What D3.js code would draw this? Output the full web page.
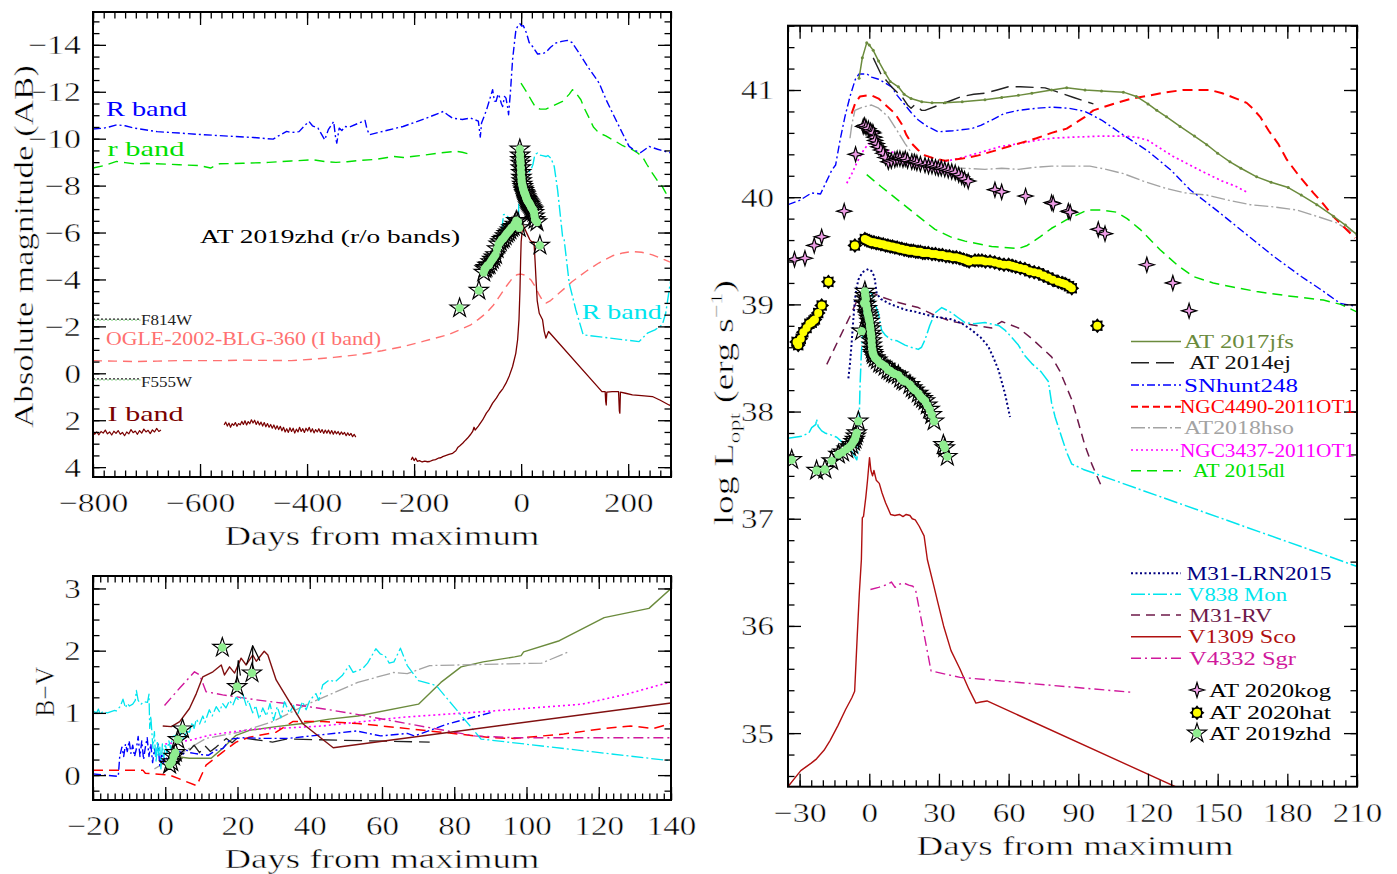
<!DOCTYPE html>
<html><head><meta charset="utf-8"><title>LRN comparison</title>
<script src="https://cdn.jsdelivr.net/npm/d3@7/dist/d3.min.js"></script>
<style>
html,body{margin:0;padding:0;background:#fff;}
svg{display:block;}
text{font-family:"Liberation Serif","DejaVu Serif",serif;font-weight:normal;}
text.big{stroke:#fff;stroke-width:0.45px;}
</style></head><body>
<svg id="chart" width="1397" height="874"></svg>
<script>
// ================= DATA =================
// ---- Top-left panel: absolute magnitude vs days ----
const rBandBlue = [[-800,-10.41],[-780,-10.45],[-770,-10.5],[-756,-10.59],[-740,-10.55],[-722.6,-10.45],[-700,-10.37],[-680,-10.3],[-638.9,-10.24],[-600,-10.18],[-555.3,-10.12],[-500,-10.05],[-463.3,-9.98],[-455,-10.1],[-438.1,-10.31],[-430,-10.26],[-415,-10.3],[-405,-10.55],[-396.3,-10.73],[-390,-10.55],[-379.6,-10.45],[-367,-9.95],[-360,-10.4],[-350.3,-10.73],[-347,-10.1],[-344.5,-9.81],[-340,-10.45],[-335,-10.35],[-329.4,-10.52],[-320,-10.5],[-305,-10.65],[-291.7,-10.78],[-288,-10.4],[-283.3,-10.17],[-250,-10.36],[-220.6,-10.52],[-180,-10.85],[-145.5,-11.16],[-135,-10.98],[-128.7,-10.88],[-110,-10.82],[-95.1,-10.88],[-80,-10.75],[-76.3,-10.07],[-74,-10.67],[-65,-11.2],[-53.3,-12.09],[-50,-11.6],[-46.9,-11.59],[-43,-11.9],[-40.8,-11.8],[-37,-11.5],[-34.6,-11.37],[-31,-11.8],[-28.3,-11.73],[-25,-11.3],[-23.5,-11.02],[-20,-12.0],[-16,-13.37],[-12,-14.2],[-9.7,-14.65],[-5,-14.85],[-2.2,-14.9],[1,-14.8],[4,-14.82],[10,-14.5],[15,-14.1],[21.3,-13.93],[30.7,-13.61],[40,-13.63],[46.3,-13.68],[55,-13.9],[65,-14.08],[76,-14.15],[86.6,-14.19],[95,-14.1],[108.4,-13.65],[125,-13.05],[145.7,-12.37],[160,-11.6],[176.9,-10.81],[190,-10.2],[201.7,-9.67],[212,-9.5],[223.5,-9.41],[232,-9.55],[239,-9.67],[255,-9.55],[276.3,-9.41],[282,-9.4]];
const rBandGreenPre = [[-800,-8.75],[-780,-8.85],[-756,-9.03],[-740,-8.98],[-722.6,-8.93],[-700,-8.95],[-638.9,-8.89],[-600,-8.85],[-580.3,-8.75],[-563.6,-8.93],[-520,-8.95],[-471.7,-8.99],[-430,-9.05],[-387.9,-9.1],[-365,-9.02],[-346.2,-8.99],[-325,-9.02],[-304.4,-9.07],[-270,-9.12],[-250,-9.2],[-237.4,-9.24],[-220,-9.2],[-200,-9.25],[-178.8,-9.31],[-150,-9.4],[-120.3,-9.46],[-110,-9.42],[-99.4,-9.36]];
const rBandGreenPost = [[-0.3,-12.37],[10,-12.0],[20,-11.6],[27.7,-11.31],[36,-11.26],[46.3,-11.26],[60,-11.4],[77.3,-11.59],[90,-11.9],[96,-12.09],[104,-11.9],[111.6,-11.66],[118,-11.3],[127.1,-10.88],[135,-10.5],[142.6,-10.31],[150,-10.2],[158.2,-10.12],[167,-10.0],[176.9,-9.88],[190,-9.7],[207.8,-9.53],[217,-9.4],[226.5,-9.24],[235,-8.9],[245.1,-8.53],[255,-8.2],[263.8,-7.96],[270,-7.7],[282,-7.3]];
const rBandCyan = [[-36,-6.1],[-33,-6.76],[-30,-6.78],[-26,-6.7],[-20,-6.55],[-14,-6.45],[-8,-6.4],[-5,-6.6],[-4,-7.8],[-3,-9.5],[-1.5,-9.45],[0,-8.9],[2,-8.6],[5.8,-8.53],[10,-8.6],[14,-8.55],[18.3,-8.67],[22,-8.9],[25,-9.25],[28,-9.35],[30.7,-9.39],[35,-9.3],[40,-9.28],[46.3,-9.24],[50,-9.28],[55.6,-9.17],[61.8,-8.82],[68.1,-7.82],[77.4,-5.83],[80.4,-5.69],[89.8,-3.84],[102.2,-2.71],[115.9,-1.64],[220.3,-1.35],[235.9,-1.71],[250,-1.85],[263.8,-2.07],[270.1,-2.56],[277.6,-3.7],[282,-4.3]];
const ogleIBand = [[-800,-0.54],[-760,-0.52],[-722.6,-0.5],[-680,-0.52],[-640,-0.54],[-597,-0.54],[-560,-0.54],[-520,-0.56],[-480,-0.55],[-429.7,-0.54],[-390,-0.6],[-350,-0.68],[-304.4,-0.79],[-260,-0.96],[-220.6,-1.14],[-180,-1.38],[-137,-1.64],[-115.4,-1.85],[-95.1,-2.05],[-80,-2.3],[-65.6,-2.56],[-52,-2.9],[-40.8,-3.27],[-28,-3.7],[-16,-4.06],[-8,-4.2],[-0.3,-4.23],[8,-4.18],[18.3,-3.98],[26,-3.7],[33.8,-3.34],[40,-3.1],[46.3,-2.99],[55,-3.1],[71.1,-3.42],[95,-3.9],[120.9,-4.34],[145,-4.7],[170.6,-5.01],[190,-5.13],[207.9,-5.19],[225,-5.16],[245.2,-5.05],[262,-4.9],[276.3,-4.76],[282,-4.72]];
const iBandSeg1 = [[-800,2.45],[-797,2.6],[-793,2.5],[-789,2.62],[-785,2.48],[-781,2.55],[-777,2.42],[-773,2.58],[-769,2.5],[-765,2.63],[-761,2.47],[-757,2.56],[-753,2.44],[-749,2.6],[-745,2.52],[-741,2.66],[-737,2.5],[-733,2.58],[-729,2.4],[-725,2.53],[-721,2.46],[-717,2.6],[-713,2.44],[-709,2.55],[-705,2.38],[-701,2.5],[-697,2.43],[-693,2.57],[-689,2.41],[-685,2.5],[-681,2.35],[-677,2.48],[-673,2.42]];
const iBandSeg2 = [[-555,2.2],[-552,2.08],[-549,2.25],[-546,2.12],[-543,2.3],[-540,2.15],[-537,2.22],[-534,2.1],[-531,2.26],[-528,2.14],[-525,2.2],[-522,2.05],[-519,2.18],[-516,2.02],[-513,2.2],[-510,2.06],[-507,2.15],[-504,1.98],[-501,2.12],[-498,2.0],[-495,2.18],[-492,2.04],[-489,2.2],[-486,2.08],[-483,2.25],[-480,2.1],[-477,2.28],[-474,2.14],[-471,2.3],[-468,2.18],[-465,2.34],[-462,2.2],[-459,2.38],[-456,2.24],[-453,2.4],[-450,2.26],[-447,2.45],[-444,2.3],[-441,2.5],[-438,2.36],[-435,2.52],[-432,2.32],[-429,2.48],[-426,2.34],[-423,2.55],[-420,2.38],[-417,2.5],[-414,2.3],[-411,2.48],[-408,2.36],[-405,2.52],[-402,2.34],[-399,2.46],[-396,2.3],[-393,2.5],[-390,2.36],[-387,2.54],[-384,2.4],[-381,2.5],[-378,2.36],[-375,2.52],[-372,2.4],[-369,2.56],[-366,2.42],[-363,2.55],[-360,2.42],[-357,2.58],[-354,2.44],[-351,2.6],[-348,2.46],[-345,2.58],[-342,2.48],[-339,2.62],[-336,2.5],[-333,2.6],[-330,2.52],[-327,2.66],[-324,2.54],[-321,2.65],[-318,2.56],[-315,2.7],[-312,2.6],[-309,2.72]];
const iBandSeg3 = [[-205.5,3.69],[-203,3.58],[-200,3.72],[-197,3.62],[-194,3.75],[-190,3.72],[-185,3.78],[-180,3.74],[-175,3.77],[-171,3.76],[-165,3.7],[-160,3.68],[-155,3.62],[-150,3.6],[-146.6,3.55],[-140,3.5],[-135,3.46],[-128,3.41],[-122,3.3],[-118,3.15],[-115,3.1],[-109.3,2.98],[-104,2.85],[-100,2.76],[-95,2.62],[-90.6,2.48],[-88,2.3],[-86,2.42],[-80,2.25],[-72,1.99],[-65,1.7],[-60,1.55],[-53.3,1.27],[-46,1.05],[-40.8,0.85],[-34,0.65],[-28.3,0.42],[-22,0.1],[-16,-0.29],[-10,-0.85],[-6.6,-1.43],[-4,-2.3],[-2.2,-3.56],[-1,-4.8],[0,-5.6],[2,-6.1],[4,-6.3],[8,-6.1],[12,-5.9],[16,-5.7],[20,-5.6],[24,-5.6],[26,-4.8],[28,-3.9],[30,-3.1],[33.8,-2.56],[40,-2.28],[43,-1.8],[46.3,-1.5],[48,-1.6],[51.2,-1.78],[151,0.78],[157,0.78],[158,1.2],[159,1.35],[160,0.8],[170,0.78],[182,0.78],[183.5,1.6],[184.4,1.7],[185.5,0.8],[195,0.85],[207.9,0.92],[225,0.95],[245.2,0.99],[260,1.15],[276.3,1.35],[282,1.4]];
const f814wLevel = [[-800,-2.31],[-711,-2.31]];
const f555wLevel = [[-800,0.24],[-711,0.24]];
const zhdMag = [[-115,-2.78],[-79,-3.53],[-70,-4.3],[-68,-4.45],[-66,-4.5],[-63,-4.6],[-60,-4.62],[-57,-4.75],[-54,-4.85],[-51,-4.95],[-48,-5.05],[-45,-5.3],[-42,-5.5],[-39,-5.6],[-36,-5.7],[-33,-5.75],[-30,-5.85],[-27,-5.95],[-24,-6.02],[-21,-6.1],[-18,-6.2],[-15,-6.25],[-12,-6.35],[-9,-6.5],[-6,-6.45],[-3.5,-6.2],[-2.5,-9.55],[-2,-9.3],[-1.5,-9.1],[-1,-8.95],[-0.5,-8.75],[0,-8.55],[0.5,-8.35],[1,-8.2],[2,-8.05],[3,-7.95],[4,-7.85],[5,-7.78],[6,-7.7],[7,-7.65],[8,-7.6],[9,-7.52],[10,-7.45],[11,-7.4],[12,-7.35],[13.5,-7.3],[15,-7.25],[16.5,-7.2],[18,-7.12],[19.5,-7.05],[21,-7.0],[22.5,-6.95],[24,-6.85],[25,-6.7],[26,-6.55],[29.6,-6.45],[35,-5.45]];

// ---- Bottom-left panel: B-V colour ----
const bvSNhunt248 = [[-20,0.02],[-17,0.0],[-13,-0.02],[-12.6,0.3],[-12,0.45],[-11.5,0.3],[-11,0.5],[-10.5,0.38],[-10,0.55],[-9.5,0.35],[-9,0.48],[-8.5,0.3],[-8,0.42],[-7.5,0.62],[-7,0.3],[-6.5,0.55],[-6,0.25],[-5.5,0.45],[-5,0.6],[-4.5,0.3],[-4,0.5],[-3.5,0.2],[-3,0.42],[-2.5,0.28],[-2,0.5],[-1.5,0.15],[-1,0.35],[-0.5,0.2],[0,0.3],[1,0.22],[2,0.32],[3,0.28],[4,0.38],[5,0.34],[6,0.4],[7,0.36],[8,0.35],[10,0.33],[12,0.32],[14,0.4],[16,0.43],[18,0.58],[21.5,0.6],[27,0.59],[34,0.59],[43.6,0.65],[53,0.71],[59.6,0.63],[67,0.67],[69,0.63],[78,0.82],[90.5,1.01]];
const bvV838Mon = [[-20,1.03],[-19,1.0],[-18.5,1.06],[-18,0.98],[-17.3,1.02],[-16,1.0],[-14,1.04],[-13.6,1.03],[-12.5,1.1],[-11.7,1.22],[-11,1.08],[-10.5,1.15],[-9.9,1.11],[-9,1.14],[-8.3,1.2],[-8,1.36],[-7.5,1.2],[-6.7,1.14],[-6,1.18],[-4.9,1.17],[-4.5,1.3],[-4.3,0.75],[-4,0.95],[-3.6,0.6],[-3.4,0.43],[-3,0.7],[-2.7,0.3],[-2.5,0.21],[-2.2,0.55],[-1.8,0.3],[-1.5,0.45],[-1.2,0.1],[-0.8,0.5],[-0.4,0.28],[0,0.5],[0.5,0.35],[1,0.55],[1.5,0.42],[2,0.62],[3,0.64],[3.5,0.5],[4.5,0.72],[5,0.58],[6,0.7],[6.7,0.69],[7.5,0.85],[8,0.75],[8.6,0.9],[9.5,0.82],[10.4,0.95],[11,0.85],[12.2,1.05],[13,0.95],[14.1,1.1],[15,1.02],[15.9,1.15],[16.8,1.08],[17.8,1.2],[18.7,1.12],[19.6,1.25],[20.5,1.2],[21.5,1.3],[22.4,1.12],[23,1.2],[24.2,1.0],[25,1.12],[26,0.9],[27,1.08],[28,0.95],[29,1.15],[30,0.88],[31,1.1],[32,0.92],[33,1.18],[34.4,1.0],[35.5,1.12],[36.5,0.95],[38,1.18],[39,1.05],[40,1.2],[41.7,1.31],[42.5,1.2],[43.6,1.45],[45.4,1.53],[47,1.5],[49,1.6],[50.9,1.76],[52,1.65],[54.6,1.71],[56,1.8],[58.3,2.03],[59.5,1.95],[60.8,1.92],[62,1.8],[63.3,1.82],[65.1,2.04],[67,1.76],[70.1,1.52],[75,1.44],[87.4,0.58],[140,0.23]];
const bvV1309Sco = [[-0.7,0.79],[1.7,0.78],[4,0.86],[6.7,1.07],[8.6,1.31],[10.4,1.58],[13.2,1.66],[15.5,1.77],[16.4,1.61],[17.8,1.74],[19.2,1.64],[21,1.88],[22.4,1.77],[24.2,1.93],[25.2,1.83],[27.4,1.99],[28.4,1.93],[30.7,1.53],[38,0.83],[46.5,0.44],[140,1.16]];
const bvV4332Sgr = [[-0.2,1.12],[4,1.4],[8.1,1.66],[9.5,1.61],[11.3,1.34],[15.9,1.29],[25.2,1.21],[36.2,1.13],[45.4,1.05],[52.7,0.98],[85.6,0.63],[96.7,0.6],[140,0.6]];
const bvNGC4490 = [[-20,0.08],[-6.2,0.08],[-5.5,0.03],[1.2,0.0],[8.7,-0.17],[11.3,0.16],[15.9,0.37],[19.6,0.53],[23.3,0.61],[30.7,0.69],[35.3,0.86],[43.6,0.86],[53.3,0.83],[78.1,0.68],[90.5,0.6],[96.7,0.59],[110.3,0.66],[121.5,0.75],[128.9,0.79],[135.1,0.75],[140,0.83]];
const bvAT2017jfs = [[1.2,0.32],[4,0.29],[6.7,0.27],[12.7,0.27],[15.9,0.43],[19.6,0.64],[23.3,0.72],[30.7,0.78],[38,0.83],[45.4,0.9],[53.3,0.95],[70.1,1.14],[76.3,1.49],[81.9,1.74],[88,1.82],[96.7,1.9],[98.5,1.92],[99.2,1.98],[109.1,2.16],[121.5,2.53],[133.9,2.68],[140,3.0]];
const bvAT2018hso = [[-3,0.1],[4.9,0.37],[11.3,0.59],[20.5,0.69],[29.7,0.86],[39,1.13],[45.4,1.29],[53.3,1.49],[63.3,1.65],[67,1.63],[73.2,1.76],[104.2,1.8],[111.6,1.98]];
const bvAT2014ej = [[6.7,0.4],[8,0.48],[9.5,0.36],[11,0.47],[12.5,0.38],[14.1,0.45],[16.9,0.59],[18.5,0.52],[20,0.6],[22.4,0.59],[29.7,0.53],[33.5,0.58],[73.2,0.53]];
const bvNGC3437 = [[0,0.5],[6.7,0.56],[12.2,0.64],[17.8,0.69],[25.2,0.74],[34.4,0.76],[43.6,0.79],[65.7,0.93],[90.5,1.03],[115.3,1.14],[127.7,1.3],[140,1.5]];
const bvZhdLineA = [[19.7,1.45],[20.2,1.84],[20.8,1.6]];
const bvZhdLineB = [[22.5,1.78],[24.2,2.08],[26.2,1.84]];
const bvZhdLineC = [[24.2,2.08],[24.2,1.66]];
const bvAT2019zhd = [[1.2,0.17],[1.8,0.21],[2.3,0.3],[2.8,0.36],[3.5,0.57],[4.8,0.74],[15.8,2.05],[19.9,1.42],[24,1.64]];

// ---- Right panel: log optical luminosity ----
const lumAT2017jfs = [[-4.4,41.11],[-3,41.3],[-1.1,41.44],[0,41.42],[1.7,41.37],[4,41.27],[6.8,41.16],[9,41.08],[12.5,41.03],[15,40.96],[18,40.92],[22.6,40.89],[27,40.88],[32.6,40.88],[40,40.89],[49.8,40.91],[57,40.93],[64.2,40.95],[70,40.97],[78.5,41.0],[85,41.02],[92.9,41.0],[100,40.99],[109.4,40.98],[115,40.94],[120,40.87],[123.8,40.81],[128,40.75],[133.8,40.66],[140,40.57],[145.3,40.49],[150,40.41],[155.3,40.33],[160,40.27],[166.8,40.19],[173,40.14],[180.4,40.09],[186,40.02],[192.7,39.93],[200,39.82],[205,39.74],[210,39.65]];
const lumAT2014ej = [[1.7,41.3],[5,41.15],[10,41.02],[14,40.94],[16.5,40.86],[18,40.83],[19.5,40.86],[21,40.84],[22.5,40.81],[24,40.81],[30,40.86],[35,40.9],[39.8,40.94],[45,40.96],[49.8,40.97],[55,41.0],[59.9,41.03],[65,41.03],[75.7,41.02],[80,40.99],[88,40.93],[96.5,40.87]];
const lumSNhunt248 = [[-35,39.93],[-30,39.97],[-24.8,40.04],[-21,40.03],[-16.2,40.25],[-14.5,40.3],[-12.6,40.53],[-10.5,40.75],[-8.3,40.94],[-6,41.1],[-4.4,41.15],[-1,41.15],[1,41.12],[4,41.1],[6.5,41.07],[9.6,41.03],[12,40.95],[15.4,40.86],[18,40.79],[21.1,40.72],[25,40.66],[29.7,40.61],[36,40.62],[44.1,40.64],[48,40.67],[52.7,40.72],[58,40.78],[64.2,40.81],[72,40.83],[78.5,40.84],[86,40.83],[92.9,40.8],[100,40.72],[109.4,40.58],[120,40.43],[130,40.25],[138.1,40.07],[150,39.87],[162,39.66],[174,39.45],[186,39.26],[195,39.13],[202.7,39.01],[210,38.98]];
const lumNGC4490 = [[-7.6,40.78],[-6,40.88],[-4,40.94],[-1,40.95],[1,40.95],[4,40.92],[7,40.86],[11.1,40.78],[14,40.68],[16,40.58],[18.3,40.5],[21,40.44],[24,40.39],[28,40.36],[32.6,40.34],[40,40.36],[47,40.39],[55,40.44],[64.2,40.5],[72,40.55],[78.5,40.6],[85,40.64],[92.9,40.75],[96.5,40.81],[105,40.87],[113,40.92],[120.9,40.95],[128,40.98],[135.2,41.0],[146.7,41.0],[152,40.97],[158,40.92],[162.5,40.88],[165,40.83],[168.3,40.75],[172,40.62],[176,40.5],[179.8,40.35],[185,40.2],[191.2,40.04],[195,39.95],[199.8,39.82],[204,39.73],[209.2,39.62]];
const lumAT2018hso = [[-8.3,40.55],[-7.5,40.68],[-6.2,40.81],[-3,40.84],[1,40.86],[4,40.83],[8.2,40.75],[12,40.62],[15.4,40.5],[18,40.42],[21.1,40.35],[26,40.3],[32.6,40.27],[40,40.27],[49.8,40.26],[57,40.27],[64.2,40.26],[72,40.28],[78.5,40.29],[95,40.29],[102,40.26],[109.4,40.22],[118,40.15],[128.1,40.08],[136,40.04],[145.3,40.02],[155,39.97],[164,39.93],[174,39.91],[184.1,39.88],[193,39.82],[201.3,39.76],[205,39.71],[209.9,39.66]];
const lumNGC3437 = [[-9.7,40.13],[-7.5,40.22],[-5.4,40.32],[-3,40.42],[-0.4,40.5],[5,40.46],[10,40.42],[16,40.37],[22,40.34],[28,40.33],[32,40.33],[40,40.37],[49.8,40.43],[56,40.47],[64.2,40.5],[72,40.53],[78.5,40.55],[87.9,40.56],[100,40.57],[109.4,40.57],[115.2,40.56],[120,40.53],[125,40.46],[130.9,40.38],[138,40.3],[145.3,40.22],[152,40.15],[158,40.1],[163.2,40.04]];
const lumAT2015dl = [[-1.1,40.21],[5,40.1],[12.5,39.97],[20,39.84],[28.3,39.7],[35,39.63],[41.2,39.59],[52.7,39.54],[64.2,39.52],[68,39.55],[73.5,39.63],[78.5,39.71],[85,39.79],[92.9,39.87],[95,39.88],[100,39.88],[106.5,39.86],[111,39.8],[116.6,39.7],[125.2,39.51],[133,39.36],[139.5,39.26],[148.1,39.2],[157,39.16],[166.8,39.12],[180,39.08],[195.5,39.04],[203,39.0],[209.9,38.93]];
const lumM31LRN2015 = [[-9,38.31],[-8.3,38.45],[-7.6,38.64],[-6.9,38.85],[-6.2,39.04],[-5.5,39.15],[-4.7,39.23],[-3,39.3],[-0.4,39.33],[1,39.31],[2.2,39.26],[3.2,39.1],[5,39.05],[8.2,39.01],[15.4,38.95],[20,38.93],[26.9,38.89],[35.5,38.86],[40,38.82],[44.1,38.76],[48,38.69],[51.2,38.61],[53.5,38.5],[55.6,38.39],[58.4,38.17],[60.6,37.95]];
const lumV838Mon = [[-35,37.75],[-29.1,37.77],[-26,37.8],[-24.8,37.85],[-23,37.88],[-22.7,37.93],[-22,37.86],[-20.5,37.82],[-19.1,37.8],[-16.2,37.78],[-14,37.76],[-11.9,37.72],[-9.5,37.66],[-7.6,37.63],[-5.4,37.55],[-4.9,37.62],[-4.7,37.68],[-4.3,37.95],[-4,38.23],[-3.5,38.5],[-3,38.7],[-2.5,38.9],[-1.9,39.1],[-0.5,39.13],[1,39.1],[2.5,39.0],[3.9,38.92],[5.3,38.76],[7,38.71],[9.6,38.67],[12,38.66],[15.4,38.62],[18,38.6],[21.1,38.58],[22.5,38.6],[24,38.67],[26,38.8],[28.3,38.92],[30,38.95],[31.2,38.97],[33,38.95],[35.5,38.92],[38,38.88],[41.2,38.83],[45,38.82],[49.8,38.83],[52,38.82],[54.1,38.81],[56,38.8],[58.4,38.76],[61,38.7],[64.2,38.62],[67,38.52],[69.9,38.45],[74,38.37],[77.1,38.28],[78.5,38.08],[80,37.95],[82.7,37.77],[85,37.62],[87.2,37.51],[88.3,37.5],[92.2,37.46],[212,36.54]];
const lumM31RV = [[-18.3,38.44],[-13,38.68],[-7.6,38.92],[-5,39.05],[-2.6,39.14],[0,39.12],[5.3,39.07],[12,39.02],[21.1,38.97],[28,38.9],[35.5,38.84],[44,38.81],[52.7,38.78],[57,38.84],[64.2,38.78],[70,38.68],[78.5,38.51],[82,38.38],[87.2,38.11],[90,37.9],[92.9,37.68],[96,37.5],[100,37.3]];
const lumV1309Sco = [[-35,34.5],[-29.5,34.65],[-25,34.72],[-22.7,34.76],[-19.5,34.84],[-16.9,34.93],[-13.5,35.07],[-10.2,35.22],[-7.5,35.33],[-6.3,35.39],[-5.2,35.9],[-4.3,36.3],[-3.4,36.62],[-3,37.01],[-2.5,37.02],[-1.5,37.2],[-0.8,37.35],[0.1,37.57],[0.7,37.45],[1.4,37.4],[2,37.45],[3,37.36],[4.3,37.33],[5.5,37.24],[7,37.15],[9.2,37.04],[11,37.03],[13,37.04],[14.5,37.02],[15.9,37.04],[17.5,37.03],[18.5,37.0],[19.8,36.99],[21.5,36.93],[23.6,36.84],[25,36.62],[27.5,36.4],[29.5,36.22],[32,36.0],[35.2,35.77],[39,35.6],[42.9,35.41],[45.9,35.28],[48,35.29],[50.7,35.3],[131.8,34.5]];
const lumV4332Sgr = [[0.5,36.34],[4,36.36],[8.2,36.39],[9.5,36.41],[11.1,36.36],[13,36.39],[14.9,36.4],[17,36.38],[18.8,36.37],[20,36.33],[26.6,35.58],[39.1,35.52],[113.4,35.38]];
const lumAT2020kog = [[-32.2,39.42],[-27.7,39.43],[-23.7,39.55],[-20.5,39.63],[-10.8,39.87],[-5.9,40.40],[-2.6,40.66],[-2,40.67],[-1.4,40.65],[-0.4,40.64],[0.5,40.62],[1.2,40.61],[1.7,40.6],[2.2,40.56],[2.5,40.53],[3.2,40.5],[3.9,40.47],[5,40.44],[6,40.41],[7,40.37],[8.2,40.33],[9.5,40.34],[11,40.35],[12,40.36],[13.2,40.36],[14.5,40.35],[15.5,40.36],[16.5,40.34],[18.3,40.33],[19.5,40.33],[20.5,40.32],[22,40.31],[24,40.3],[25.5,40.29],[27,40.29],[28.5,40.28],[29.7,40.27],[31,40.27],[32.5,40.26],[34,40.25],[35.5,40.24],[37,40.23],[38.5,40.21],[39.8,40.19],[41,40.17],[42.6,40.15],[54.1,40.07],[57,40.05],[67.3,40.01],[78.5,39.95],[79.2,39.94],[85.7,39.87],[86.5,39.86],[98.6,39.70],[101.5,39.66],[119.5,39.37],[130.7,39.2],[137.7,38.94]];
const lumAT2020hat = [[-31.3,38.65],[-30.6,38.62],[-29.5,38.68],[-28.4,38.74],[-27,38.78],[-25.8,38.82],[-24.8,38.83],[-24,38.85],[-23.4,38.86],[-22,38.92],[-20.5,38.99],[-17.6,39.21],[-6.2,39.55],[-1.9,39.61],[-1,39.6],[0,39.59],[1,39.58],[2,39.58],[3,39.57],[4,39.57],[5,39.56],[6,39.56],[7,39.55],[8,39.55],[9,39.54],[10,39.54],[11,39.53],[12,39.53],[13,39.52],[14,39.52],[15,39.51],[16,39.51],[17,39.5],[18,39.5],[19,39.5],[20,39.49],[21,39.49],[22,39.49],[23,39.48],[24,39.48],[25.4,39.48],[27,39.47],[28.5,39.47],[30,39.46],[31.5,39.46],[33,39.45],[34.5,39.45],[36,39.44],[37.5,39.44],[39,39.43],[40.5,39.42],[42,39.41],[43,39.4],[45.5,39.41],[47,39.41],[48.5,39.41],[50,39.4],[52,39.4],[54,39.39],[56,39.38],[58,39.37],[60,39.37],[61.5,39.36],[63,39.35],[65,39.34],[67,39.33],[69,39.31],[71,39.3],[73,39.29],[75,39.27],[77,39.25],[79,39.23],[81.4,39.21],[83,39.2],[84.3,39.19],[86,39.17],[87.2,39.15],[98.2,38.8]];
const lumAT2019zhd = [[-33.4,37.55],[-22.7,37.45],[-19.1,37.46],[-16.2,37.54],[-13.3,37.6],[-11.5,37.62],[-9.7,37.65],[-8.5,37.67],[-7.6,37.69],[-6.8,37.72],[-6.2,37.74],[-5.8,37.77],[-5.4,37.8],[-4.7,37.91],[-3.3,38.75],[-2.2,39.01],[-1.9,39.12],[-1.7,39.08],[-1.5,39.05],[-1.3,39.0],[-1.0,38.96],[-0.8,38.92],[-0.5,38.9],[-0.2,38.87],[0.1,38.84],[0.3,38.8],[0.5,38.77],[0.7,38.73],[0.9,38.7],[1.0,38.66],[1.1,38.62],[1.3,38.58],[1.5,38.55],[1.8,38.53],[2.5,38.5],[3.5,38.48],[4.5,38.45],[5.5,38.44],[6.8,38.42],[8,38.39],[9,38.38],[10,38.36],[11,38.35],[12.5,38.34],[13.5,38.31],[14.5,38.29],[15.5,38.28],[17.5,38.25],[18.5,38.22],[19.5,38.2],[21.1,38.17],[22,38.14],[23,38.12],[24,38.1],[25,38.06],[26,38.02],[26.9,37.97],[27.9,37.91],[31.9,37.69],[32.5,37.66],[33.6,37.58]];

// ---- tick values ----
const tlXMajor = [-800,-600,-400,-200,0,200];
const tlYMajor = [-14,-12,-10,-8,-6,-4,-2,0,2,4];
const blXMajor = [-20,0,20,40,60,80,100,120,140];
const blYMajor = [0,1,2,3];
const rXMajor = [-30,0,30,60,90,120,150,180,210];
const rYMajor = [35,36,37,38,39,40,41];
// legend names
const legendLineNames = ["AT 2017jfs","AT 2014ej","SNhunt248","NGC4490-2011OT1","AT2018hso","NGC3437-2011OT1","AT 2015dl","M31-LRN2015","V838 Mon","M31-RV","V1309 Sco","V4332 Sgr"];
const legendMarkerNames = ["AT 2020kog","AT 2020hat","AT 2019zhd"];

// ================= DRAWING =================
const svg = d3.select("#chart");
const defs = svg.append("defs");
const fmt = d => { const v = +(+d).toFixed(2); return v < 0 ? "\u2212" + Math.abs(v) : String(v); };
const numW = s => Array.from(s).reduce((a, c) => a + (c === "\u2212" ? 20 : 16.5), 0);
const stepRange = (a, b, s) => { const out = []; for (let i = 0; a + i * s <= b + 1e-9; i++) out.push(+(a + i * s).toFixed(4)); return out; };

function makePanel(id, o) {
  const x = d3.scaleLinear().domain(o.xd).range([o.x0, o.x1]);
  const y = d3.scaleLinear().domain(o.yd).range([o.y1, o.y0]);
  defs.append("clipPath").attr("id", id).append("rect")
    .attr("x", o.x0).attr("y", o.y0).attr("width", o.x1 - o.x0).attr("height", o.y1 - o.y0);
  const plot = svg.append("g").attr("clip-path", `url(#${id})`);
  return { x, y, o, plot };
}
function drawAxes(p, xMaj, xMin, yMaj, yMin, leftPad) {
  const { x, y, o } = p;
  const ax = svg.append("g");
  const mk = (gen, tr, vals, size, lab) => {
    const a = ax.append("g").attr("transform", tr)
      .call(gen.tickValues(vals).tickSize(size).tickSizeOuter(0).tickPadding(0).tickFormat(lab ? fmt : () => ""));
    a.select(".domain").remove();
    a.selectAll(".tick line").attr("stroke", "#000").attr("stroke-width", 1.3);
    if (!lab) a.selectAll("text").remove();
    return a;
  };
  mk(d3.axisBottom(x), `translate(0,${o.y1})`, xMin, -6.5, false);
  const bx = mk(d3.axisBottom(x), `translate(0,${o.y1})`, xMaj, -13, true);
  mk(d3.axisTop(x), `translate(0,${o.y0})`, xMin, -6.5, false);
  mk(d3.axisTop(x), `translate(0,${o.y0})`, xMaj, -13, false);
  mk(d3.axisLeft(y), `translate(${o.x0},0)`, yMin, -6.5, false);
  const ly = mk(d3.axisLeft(y), `translate(${o.x0},0)`, yMaj, -13, true);
  mk(d3.axisRight(y), `translate(${o.x1},0)`, yMin, -6.5, false);
  mk(d3.axisRight(y), `translate(${o.x1},0)`, yMaj, -13, false);
  bx.selectAll("text").attr("class", "big").attr("y", 35).attr("dy", null).attr("font-size", 27)
    .attr("font-family", "Liberation Serif").attr("fill", "#000")
    .attr("textLength", d => numW(fmt(d))).attr("lengthAdjust", "spacingAndGlyphs");
  ly.selectAll("text").attr("class", "big").attr("x", -leftPad).attr("dy", "0.33em").attr("font-size", 27)
    .attr("font-family", "Liberation Serif").attr("fill", "#000")
    .attr("textLength", d => numW(fmt(d))).attr("lengthAdjust", "spacingAndGlyphs");
  ax.append("rect").attr("x", o.x0).attr("y", o.y0).attr("width", o.x1 - o.x0).attr("height", o.y1 - o.y0)
    .attr("fill", "none").attr("stroke", "#000").attr("stroke-width", 2);
}
function drawLine(p, data, color, width, dash) {
  p.plot.append("path").datum(data)
    .attr("d", d3.line().x(d => p.x(d[0])).y(d => p.y(d[1])))
    .attr("fill", "none").attr("stroke", color).attr("stroke-width", width)
    .attr("stroke-dasharray", dash || null).attr("stroke-linejoin", "round");
}
function label(txt, x, y, size, w, color, family) {
  return svg.append("text").attr("x", x).attr("y", y).attr("font-size", size)
    .attr("fill", color || "#000").attr("font-family", family || "Liberation Serif")
    .attr("textLength", w).attr("lengthAdjust", "spacingAndGlyphs").text(txt);
}

// marker symbol types (custom d3.symbol types)
const sym8 = { draw(ctx, size) { const R = Math.sqrt(size), r = R * 0.72;
  for (let i = 0; i < 16; i++) { const a = i * Math.PI / 8 - Math.PI / 2, rr = i % 2 ? r : R;
    const px = rr * Math.cos(a), py = rr * Math.sin(a); i ? ctx.lineTo(px, py) : ctx.moveTo(px, py); } ctx.closePath(); } };
const sym4 = { draw(ctx, size) { const R = Math.sqrt(size), r = R * 0.33;
  for (let i = 0; i < 8; i++) { const a = i * Math.PI / 4 - Math.PI / 2, rr = i % 2 ? r : R;
    const px = rr * Math.cos(a), py = rr * Math.sin(a); i ? ctx.lineTo(px, py) : ctx.moveTo(px, py); } ctx.closePath(); } };
const starPath = d3.symbol(d3.symbolStar, 112)();
const sunPath = d3.symbol(sym8, 56)();
const diaPath = d3.symbol(sym4, 56)();

function zhdMarkers(g, pts) {
  g.selectAll(null).data(pts).join("path").attr("d", starPath)
    .attr("transform", d => `translate(${d[0]},${d[1]})`)
    .attr("fill", "none").attr("stroke", "#000").attr("stroke-width", 1.2).attr("stroke-linejoin", "miter");
  g.selectAll(null).data(pts).join("circle").attr("cx", d => d[0]).attr("cy", d => d[1]).attr("r", 4.2)
    .attr("fill", "#90ee90");
}
function hatMarkers(g, pts) {
  g.selectAll(null).data(pts).join("path").attr("d", sunPath)
    .attr("transform", d => `translate(${d[0]},${d[1]})`).attr("fill", "#000");
  g.selectAll(null).data(pts).join("circle").attr("cx", d => d[0]).attr("cy", d => d[1]).attr("r", 4)
    .attr("fill", "#ffff00");
}
function kogMarkers(g, pts) {
  g.selectAll(null).data(pts).join("path").attr("d", diaPath)
    .attr("transform", d => `translate(${d[0]},${d[1]})`)
    .attr("fill", "#ee9ee6").attr("stroke", "#000").attr("stroke-width", 1.2);
}

// colours
const C = { olive: "#6b8b3d", blk: "#222", blue: "#0000ff", red: "#ff0000", gray: "#a3a3a3", mag: "#ff00ff",
  green: "#00e000", navy: "#000080", cyan: "#00e5ee", purp: "#6e1a4a", v1309: "#b01010", v4332: "#d0189c",
  salmon: "#ff7070", maroon: "#7a0000" };

// ---------- Panel 1: top-left ----------
const P1 = makePanel("clipA", { x0: 93, x1: 671, y0: 12, y1: 477, xd: [-800, 280], yd: [4.42, -15.4] });
drawLine(P1, ogleIBand, C.salmon, 1.4, "9,6");
drawLine(P1, iBandSeg1, C.maroon, 1.2);
drawLine(P1, iBandSeg2, C.maroon, 1.2);
drawLine(P1, iBandSeg3, C.maroon, 1.3);
drawLine(P1, rBandGreenPre, C.green, 1.4, "10,6");
drawLine(P1, rBandGreenPost, C.green, 1.4, "10,6");
drawLine(P1, rBandBlue, C.blue, 1.4, "8,3,2,3");
drawLine(P1, rBandCyan, C.cyan, 1.4, "12,3,2,3");
drawLine(P1, f814wLevel, "#222", 1.2, "2,2");
drawLine(P1, f555wLevel, "#222", 1.2, "2,2");
P1.plot.append("g").call(g => {
  g.append("path").datum(f814wLevel).attr("d", d3.line().x(d => P1.x(d[0])).y(d => P1.y(d[1]) + 1))
    .attr("stroke", "#7fd77f").attr("stroke-width", 1).attr("stroke-dasharray", "2,2").attr("stroke-dashoffset", 2);
  g.append("path").datum(f555wLevel).attr("d", d3.line().x(d => P1.x(d[0])).y(d => P1.y(d[1]) + 1))
    .attr("stroke", "#7fd77f").attr("stroke-width", 1).attr("stroke-dasharray", "2,2").attr("stroke-dashoffset", 2);
});
zhdMarkers(P1.plot.append("g"), zhdMag.map(d => [P1.x(d[0]), P1.y(d[1])]));
drawAxes(P1, tlXMajor, stepRange(-800, 280, 20), tlYMajor, stepRange(-15, 4.4, 0.5), 12);

// ---------- Panel 2: bottom-left ----------
const P2 = makePanel("clipB", { x0: 93, x1: 671, y0: 576, y1: 800, xd: [-20, 140], yd: [-0.4, 3.2] });
drawLine(P2, bvAT2017jfs, C.olive, 1.4);
drawLine(P2, bvAT2018hso, C.gray, 1.3, "14,3,2,3");
drawLine(P2, bvAT2014ej, C.blk, 1.3, "18,7");
drawLine(P2, bvNGC3437, C.mag, 1.6, "2,3");
drawLine(P2, bvNGC4490, C.red, 1.5, "10,6");
drawLine(P2, bvSNhunt248, C.blue, 1.4, "8,3,2,3");
drawLine(P2, bvV4332Sgr, C.v4332, 1.4, "10,4,2,4");
drawLine(P2, bvV838Mon, C.cyan, 1.3, "12,3,2,3");
drawLine(P2, bvV1309Sco, "#801010", 1.4);
drawLine(P2, bvZhdLineA, "#000", 1.2);
drawLine(P2, bvZhdLineB, "#000", 1.2);
drawLine(P2, bvZhdLineC, "#000", 1.2);
zhdMarkers(P2.plot.append("g"), bvAT2019zhd.map(d => [P2.x(d[0]), P2.y(d[1])]));
drawAxes(P2, blXMajor, stepRange(-20, 140, 2), blYMajor, stepRange(-0.25, 3.2, 0.25), 12.3);

// ---------- Panel 3: right ----------
const P3 = makePanel("clipC", { x0: 788, x1: 1357, y0: 25.7, y1: 786.7, xd: [-35, 210], yd: [34.5, 41.6] });
drawLine(P3, lumV1309Sco, C.v1309, 1.4);
drawLine(P3, lumV4332Sgr, C.v4332, 1.4, "10,4,2,4");
drawLine(P3, lumM31RV, C.purp, 1.5, "9,6");
drawLine(P3, lumV838Mon, C.cyan, 1.5, "14,3,2,3");
drawLine(P3, lumM31LRN2015, C.navy, 2, "2,2.5");
drawLine(P3, lumAT2015dl, C.green, 1.5, "10,6");
drawLine(P3, lumAT2018hso, C.gray, 1.4, "14,3,2,3");
drawLine(P3, lumNGC3437, C.mag, 1.7, "2,3");
drawLine(P3, lumNGC4490, C.red, 2, "10,6");
drawLine(P3, lumSNhunt248, C.blue, 1.4, "8,3,2,3");
drawLine(P3, lumAT2014ej, C.blk, 1.4, "18,7");
drawLine(P3, lumAT2017jfs, C.olive, 1.5);
P3.plot.selectAll(null).data(lumAT2017jfs).join("circle")
  .attr("cx", d => P3.x(d[0])).attr("cy", d => P3.y(d[1])).attr("r", 1.5).attr("fill", C.olive);
kogMarkers(P3.plot.append("g"), lumAT2020kog.map(d => [P3.x(d[0]), P3.y(d[1])]));
hatMarkers(P3.plot.append("g"), lumAT2020hat.map(d => [P3.x(d[0]), P3.y(d[1])]));
zhdMarkers(P3.plot.append("g"), lumAT2019zhd.map(d => [P3.x(d[0]), P3.y(d[1])]));
drawAxes(P3, rXMajor, stepRange(-35, 210, 5), rYMajor, stepRange(34.6, 41.6, 0.2), 14);

// ---------- Axis titles ----------
label("Days from maximum", 382, 545, 27, 315).attr("text-anchor", "middle").attr("class", "big");
label("Days from maximum", 382, 868, 27, 315).attr("text-anchor", "middle").attr("class", "big");
label("Days from maximum", 1075, 855, 27, 317).attr("text-anchor", "middle").attr("class", "big");
svg.append("text").attr("class", "big").attr("transform", "translate(33,246.5) rotate(-90)").attr("text-anchor", "middle")
  .attr("font-size", 27).attr("textLength", 363).attr("lengthAdjust", "spacingAndGlyphs").text("Absolute magnitude (AB)");
svg.append("text").attr("class", "big").attr("transform", "translate(53.5,691.7) rotate(-90)").attr("text-anchor", "middle")
  .attr("font-size", 27).attr("textLength", 50).attr("lengthAdjust", "spacingAndGlyphs").text("B\u2212V");
{
  const g = svg.append("g").attr("transform", "translate(733,402.5) rotate(-90)");
  const t = g.append("text").attr("class", "big").attr("text-anchor", "middle").attr("font-size", 27);
  t.append("tspan").text("log  L");
  t.append("tspan").attr("font-size", 17).attr("dy", 7).text("opt");
  t.append("tspan").attr("dy", -7).text(" (erg s");
  t.append("tspan").attr("font-size", 17).attr("dy", -11).text("\u22121");
  t.append("tspan").attr("dy", 11).text(")");
  const L = t.node().getComputedTextLength();
  t.attr("transform", `scale(${245 / L},1)`);
}

// ---------- Top-left annotations ----------
label("R band", 106, 116, 21, 81, C.blue);
label("r band", 107.6, 156, 21, 77, C.green);
label("AT 2019zhd (r/o bands)", 200, 243, 19, 260, "#000");
label("F814W", 141, 325, 15.5, 51, "#222", "Liberation Sans");
label("OGLE-2002-BLG-360 (I band)", 106, 344.7, 18, 275, C.salmon);
label("F555W", 141, 386.7, 15.5, 51, "#222", "Liberation Sans");
label("I band", 107.6, 420.7, 22, 76, C.maroon);
label("R band", 581.7, 319, 21, 80, C.cyan);

// ---------- Right-panel legend ----------
const legStyle = [
  { c: C.olive, tc: C.olive, w: 1.5, dash: null, y: 341.5, tx: 1184, tw: 110 },
  { c: C.blk, tc: "#111", w: 1.4, dash: "18,7", y: 362.7, tx: 1189, tw: 102 },
  { c: C.blue, tc: C.blue, w: 1.4, dash: "8,3,2,3", y: 385, tx: 1184, tw: 114 },
  { c: C.red, tc: C.red, w: 2, dash: "7,4", y: 406.7, tx: 1180, tw: 175 },
  { c: C.gray, tc: C.gray, w: 1.4, dash: "14,3,2,3", y: 427.7, tx: 1184, tw: 110 },
  { c: C.mag, tc: C.mag, w: 1.6, dash: "2,3", y: 450, tx: 1180, tw: 175 },
  { c: C.green, tc: C.green, w: 1.5, dash: "10,6", y: 470.7, tx: 1193, tw: 92 },
  { c: C.navy, tc: C.navy, w: 2, dash: "2,2.5", y: 573.3, tx: 1186.5, tw: 145 },
  { c: C.cyan, tc: C.cyan, w: 1.5, dash: "14,3,2,3", y: 594.3, tx: 1188, tw: 99 },
  { c: C.purp, tc: C.purp, w: 1.5, dash: "9,6", y: 615, tx: 1189, tw: 83 },
  { c: C.v1309, tc: C.v1309, w: 1.4, dash: null, y: 636.7, tx: 1188, tw: 108 },
  { c: C.v4332, tc: C.v4332, w: 1.4, dash: "10,4,2,4", y: 658.3, tx: 1189, tw: 107 }
];
legendLineNames.forEach((name, i) => {
  const s = legStyle[i];
  svg.append("line").attr("x1", 1131).attr("x2", 1181).attr("y1", s.y).attr("y2", s.y)
    .attr("stroke", s.c).attr("stroke-width", s.w).attr("stroke-dasharray", s.dash);
  label(name, s.tx, s.y + 6.5, 19, s.tw, s.tc);
});
const legMarkY = [690, 712.7, 733.3];
kogMarkers(svg.append("g"), [[1197, legMarkY[0]]]);
hatMarkers(svg.append("g"), [[1197, legMarkY[1]]]);
zhdMarkers(svg.append("g"), [[1197, legMarkY[2]]]);
legendMarkerNames.forEach((name, i) => label(name, 1209, legMarkY[i] + 6.5, 19, 122, "#000"));
</script></body></html>
